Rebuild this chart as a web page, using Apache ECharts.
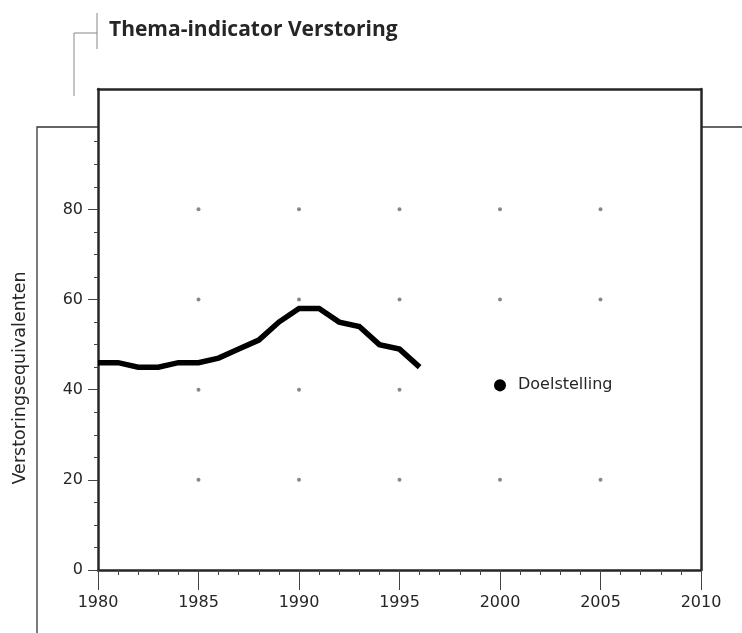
<!DOCTYPE html>
<html>
<head>
<meta charset="utf-8">
<script src="https://cdn.jsdelivr.net/npm/echarts@6/dist/echarts.min.js"></script>
<style>
  html, body { margin: 0; padding: 0; background: #fff; }
  #chart { width: 742px; height: 633px; }
</style>
</head>
<body>
<div id="chart"></div>
<script>
(function() {
  var years = [1980, 1981, 1982, 1983, 1984, 1985, 1986, 1987, 1988, 1989, 1990, 1991, 1992, 1993, 1994, 1995, 1996];
  var values = [46, 46, 45, 45, 46, 46, 47, 49, 51, 55, 58, 58, 55, 54, 50, 49, 45];
  var targetYear = 2000;
  var targetValue = 41;
  var majorYears = [1980, 1985, 1990, 1995, 2000, 2005, 2010];
  var majorLevels = [0, 20, 40, 60, 80];
  var minorLevels = [5, 10, 15, 25, 30, 35, 45, 50, 55, 65, 70, 75, 85, 90, 95];
  var dotYears = [1985, 1990, 1995, 2000, 2005];
  var dotLevels = [20, 40, 60, 80];

  var ink = '#262626';
  var font = 'DejaVu Sans';

  var minorYears = [];
  for (var y = 1981; y < 2010; y++) {
    if (y % 5 !== 0) minorYears.push(y);
  }
  var lineData = years.map(function(yr, i) { return [yr, values[i]]; });
  var dots = [];
  dotYears.forEach(function(yr) {
    dotLevels.forEach(function(lv) { dots.push([yr, lv]); });
  });

  var chart = echarts.init(document.getElementById('chart'), null, { renderer: 'canvas' });
  chart.setOption({
    animation: false,
    backgroundColor: '#fff',
    title: {
      text: 'Thema-indicator Verstoring',
      left: 104,
      top: 15,
      textStyle: { fontFamily: 'Open Sans', fontSize: 21, fontWeight: 'bold', color: ink }
    },
    grid: { left: 98, right: 41, top: 89, bottom: 63 },
    xAxis: [{
      type: 'value', min: 1980, max: 2010, position: 'bottom',
      axisLine: { onZero: false, lineStyle: { color: ink, width: 2.5 } },
      axisTick: { customValues: majorYears, length: 20, lineStyle: { color: '#444', width: 1 } },
      axisLabel: {
        customValues: majorYears, margin: 25, fontFamily: font, fontSize: 16, color: ink,
        formatter: function(v) { return String(v); }
      },
      splitLine: { show: false }
    }, {
      type: 'value', min: 1980, max: 2010, position: 'bottom',
      axisLine: { show: false },
      axisTick: { customValues: minorYears, length: 5, lineStyle: { color: '#444', width: 1 } },
      axisLabel: { show: false },
      splitLine: { show: false }
    }, {
      type: 'value', min: 1980, max: 2010, position: 'top',
      axisLine: { onZero: false, lineStyle: { color: ink, width: 2.5 } },
      axisTick: { show: false },
      axisLabel: { show: false },
      splitLine: { show: false }
    }],
    yAxis: [{
      type: 'value', min: 0, max: 106.7, position: 'left',
      name: 'Verstoringsequivalenten',
      nameLocation: 'middle',
      nameGap: 69,
      nameTextStyle: { fontFamily: font, fontSize: 17.5, color: ink, padding: [0, 97, 0, 0] },
      axisLine: { onZero: false, lineStyle: { color: ink, width: 2.5 } },
      axisTick: { customValues: majorLevels, length: 10, lineStyle: { color: '#444', width: 1 } },
      axisLabel: { customValues: majorLevels, margin: 15, fontFamily: font, fontSize: 16, color: ink },
      splitLine: { show: false }
    }, {
      type: 'value', min: 0, max: 106.7, position: 'left',
      axisLine: { show: false },
      axisTick: { customValues: minorLevels, length: 4, lineStyle: { color: '#444', width: 1 } },
      axisLabel: { show: false },
      splitLine: { show: false }
    }, {
      type: 'value', min: 0, max: 106.7, position: 'right',
      axisLine: { onZero: false, lineStyle: { color: ink, width: 2.5 } },
      axisTick: { show: false },
      axisLabel: { show: false },
      splitLine: { show: false }
    }],
    graphic: [
      { type: 'polyline', shape: { points: [[97, 13], [97, 49]] }, style: { stroke: '#888', lineWidth: 1, fill: null } },
      { type: 'polyline', shape: { points: [[97, 33], [74, 33], [74, 96]] }, style: { stroke: '#888', lineWidth: 1, fill: null } },
      { type: 'polyline', shape: { points: [[98, 127], [37, 127], [37, 633]] }, style: { stroke: '#333', lineWidth: 1.3, fill: null } },
      { type: 'polyline', shape: { points: [[701, 127], [742, 127]] }, style: { stroke: '#333', lineWidth: 1.3, fill: null } }
    ],
    series: [{
      type: 'scatter',
      xAxisIndex: 0, yAxisIndex: 0,
      data: dots,
      symbolSize: 4,
      itemStyle: { color: '#888', opacity: 1 },
      silent: true,
      z: 1
    }, {
      type: 'line',
      xAxisIndex: 0, yAxisIndex: 0,
      data: lineData,
      showSymbol: false,
      lineStyle: { color: '#000', width: 5.5, join: 'miter' },
      z: 3
    }, {
      type: 'scatter',
      xAxisIndex: 0, yAxisIndex: 0,
      data: [[targetYear, targetValue]],
      symbolSize: 12,
      itemStyle: { color: '#000', opacity: 1 },
      label: {
        show: true, position: 'right', distance: 10,
        formatter: 'Doelstelling',
        fontFamily: font, fontSize: 16, color: ink,
        backgroundColor: '#fff', padding: [2, 4, 2, 2]
      },
      z: 4
    }]
  });
  window.addEventListener('resize', function() { chart.resize(); });
})();
</script>
</body>
</html>
